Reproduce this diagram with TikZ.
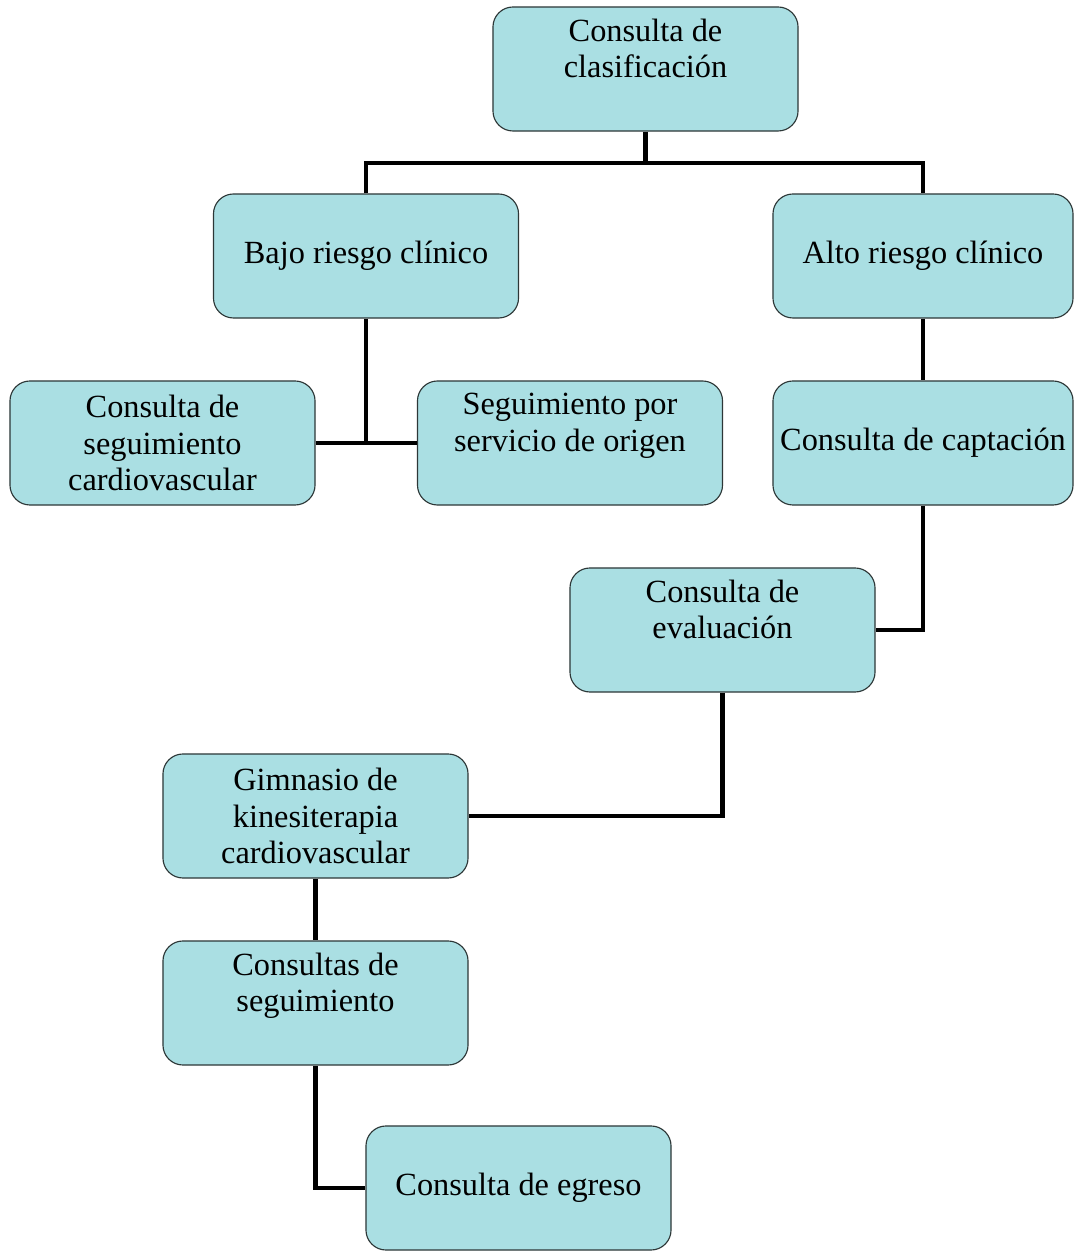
\documentclass[tikz,border=0pt]{standalone}
\usepackage{fontspec}
\setmainfont{Liberation Serif}
\definecolor{boxfill}{RGB}{170,223,227}
\definecolor{boxline}{RGB}{45,55,55}

\begin{document}
\begin{tikzpicture}[x=0.025cm, y=0.025cm,
    box/.style={draw=boxline, line width=0.8pt, fill=boxfill, rounded corners=0.5cm,
      minimum width=7.625cm, minimum height=3.1cm, inner sep=0pt, align=center,
      font=\fontsize{23}{25.8}\selectfont},
    narrow/.style={minimum width=7.5cm},
    twoline/.style={text depth=1.03cm},
    link/.style={line width=3.5pt}]
    \useasboundingbox (0, 0) rectangle (1074, 1251);

    \node[box, twoline] (clasif) at (645.5, 1182) {Consulta de\\clasificación};
    \node[box] (bajo) at (366, 995) {Bajo riesgo clínico};
    \node[box, narrow] (alto) at (923, 995) {Alto riesgo clínico};

    \node[box] (segcv) at (162.5, 808) {Consulta de\\seguimiento\\cardiovascular};
    \node[box, twoline] (servicio) at (570, 808) {Seguimiento por\\servicio de origen};
    \node[box, narrow] (captacion) at (923, 808) {Consulta de captación};

    \node[box, twoline] (evaluacion) at (722.5, 621) {Consulta de\\evaluación};
    \node[box] (gimnasio) at (315.5, 435) {Gimnasio de\\kinesiterapia\\cardiovascular};
    \node[box, twoline] (consultas) at (315.5, 248) {Consultas de\\seguimiento};
    \node[box] (egreso) at (518.5, 63) {Consulta de egreso};

    \coordinate (split) at (645.5, 1088);
    \draw[link] (clasif) -- (split);
    \draw[link] (bajo.north) |- (split) -| (alto.north);

    \draw[link] (bajo.south) -- (bajo.south |- segcv.east);
    \draw[link] (segcv.east) -- (servicio.west);
    \draw[link] (alto) -- (captacion);

    \draw[link] (captacion.south) |- (evaluacion.east);
    \draw[link] (evaluacion.south) |- (gimnasio.east);
    \draw[link] (gimnasio) -- (consultas);
    \draw[link] (consultas.south) |- (egreso.west);
\end{tikzpicture}
\end{document}
